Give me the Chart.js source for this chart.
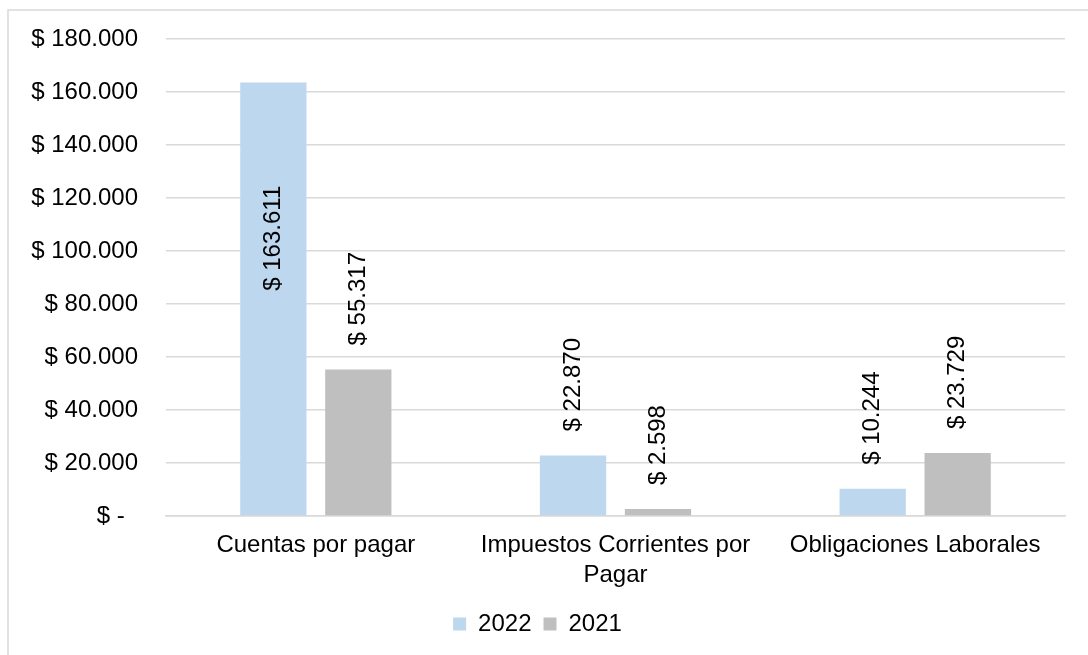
<!DOCTYPE html>
<html>
<head>
<meta charset="utf-8">
<script src="https://cdn.jsdelivr.net/npm/chart.js@4/dist/chart.umd.min.js"></script>
<style>
  html, body { margin: 0; padding: 0; background: #fff; }
  #wrap { width: 1088px; height: 655px; position: relative; }
</style>
</head>
<body>
<div id="wrap"><canvas id="grafico" width="1088" height="655"></canvas></div>
<script>
// datos
const categorias = [["Cuentas por pagar"], ["Impuestos Corrientes por", "Pagar"], ["Obligaciones Laborales"]];
const valores2022 = [163611, 22870, 10244];
const valores2021 = [55317, 2598, 23729];
const ticksY = [0, 20000, 40000, 60000, 80000, 100000, 120000, 140000, 160000, 180000];

const fuente = '"Liberation Sans", Arial, sans-serif';

function pesos(v){
    if (v === 0) return '$ -  ';
    return '$ ' + String(v).replace(/\B(?=(\d{3})+(?!\d))/g, '.');
}

// marco gris (solo arriba e izquierda, como la captura)
const marco = {
    id: 'marco',
    beforeDraw(chart){
        const c = chart.ctx;
        c.save();
        c.strokeStyle = '#d9d9d9';
        c.lineWidth = 1.5;
        c.beginPath();
        c.moveTo(8, 655);
        c.lineTo(8, 10);
        c.lineTo(1088, 10);
        c.stroke();
        c.restore();
    }
};

// etiquetas verticales encima de cada barra
const etiquetas = {
    id: 'etiquetas',
    afterDatasetsDraw(chart){
        const c = chart.ctx;
        const area = chart.chartArea;
        c.save();
        c.font = '24px ' + fuente;
        c.fillStyle = '#000';
        c.textBaseline = 'middle';
        chart.data.datasets.forEach((ds, i) => {
            chart.getDatasetMeta(i).data.forEach((bar, j) => {
                const txt = pesos(ds.data[j]);
                const w = c.measureText(txt).width;
                let yIni = bar.y - 24;
                if (yIni - w < area.top) {
                    // no cabe arriba: va dentro de la barra
                    yIni = bar.y + (bar.base - bar.y) * 0.36 + w / 2;
                }
                c.save();
                c.translate(bar.x, yIni);
                c.rotate(-Math.PI / 2);
                c.textAlign = 'left';
                c.fillText(txt, 0, 0);
                c.restore();
            });
        });
        c.restore();
    }
};

new Chart(document.getElementById('grafico'), {
    type: 'bar',
    data: {
        labels: categorias,
        datasets: [
            { label: '2022', data: valores2022, backgroundColor: '#BDD7EE' },
            { label: '2021', data: valores2021, backgroundColor: '#BFBFBF' }
        ]
    },
    options: {
        responsive: false,
        animation: false,
        devicePixelRatio: 1,
        categoryPercentage: 0.567,
        barPercentage: 0.78,
        layout: { padding: { left: 10, right: 23, top: 39, bottom: 9 } },
        plugins: {
            legend: {
                position: 'bottom',
                labels: {
                    boxWidth: 13, boxHeight: 13, padding: 12,
                    color: '#000',
                    font: { family: fuente, size: 24 }
                }
            },
            tooltip: { enabled: false }
        },
        scales: {
            x: {
                grid: { display: false, drawTicks: false },
                border: { color: '#d9d9d9', width: 1.5 },
                ticks: {
                    color: '#000', padding: 14, maxRotation: 0, autoSkip: false,
                    font: { family: fuente, size: 24, lineHeight: 1.25 }
                },
                afterFit: s => { s.height = 84; s.paddingLeft = 0; s.paddingRight = 0; }
            },
            y: {
                min: 0, max: 180000,
                afterBuildTicks: s => { s.ticks = ticksY.map(v => ({ value: v })); },
                grid: { color: '#d9d9d9', lineWidth: 1.5, drawTicks: false },
                border: { display: false },
                ticks: {
                    color: '#000', padding: 28,
                    font: { family: fuente, size: 24 },
                    callback: v => pesos(v)
                },
                afterFit: s => { s.width = 156; s.paddingTop = 0; s.paddingBottom = 0; }
            }
        }
    },
    plugins: [marco, etiquetas]
});
</script>
</body>
</html>
